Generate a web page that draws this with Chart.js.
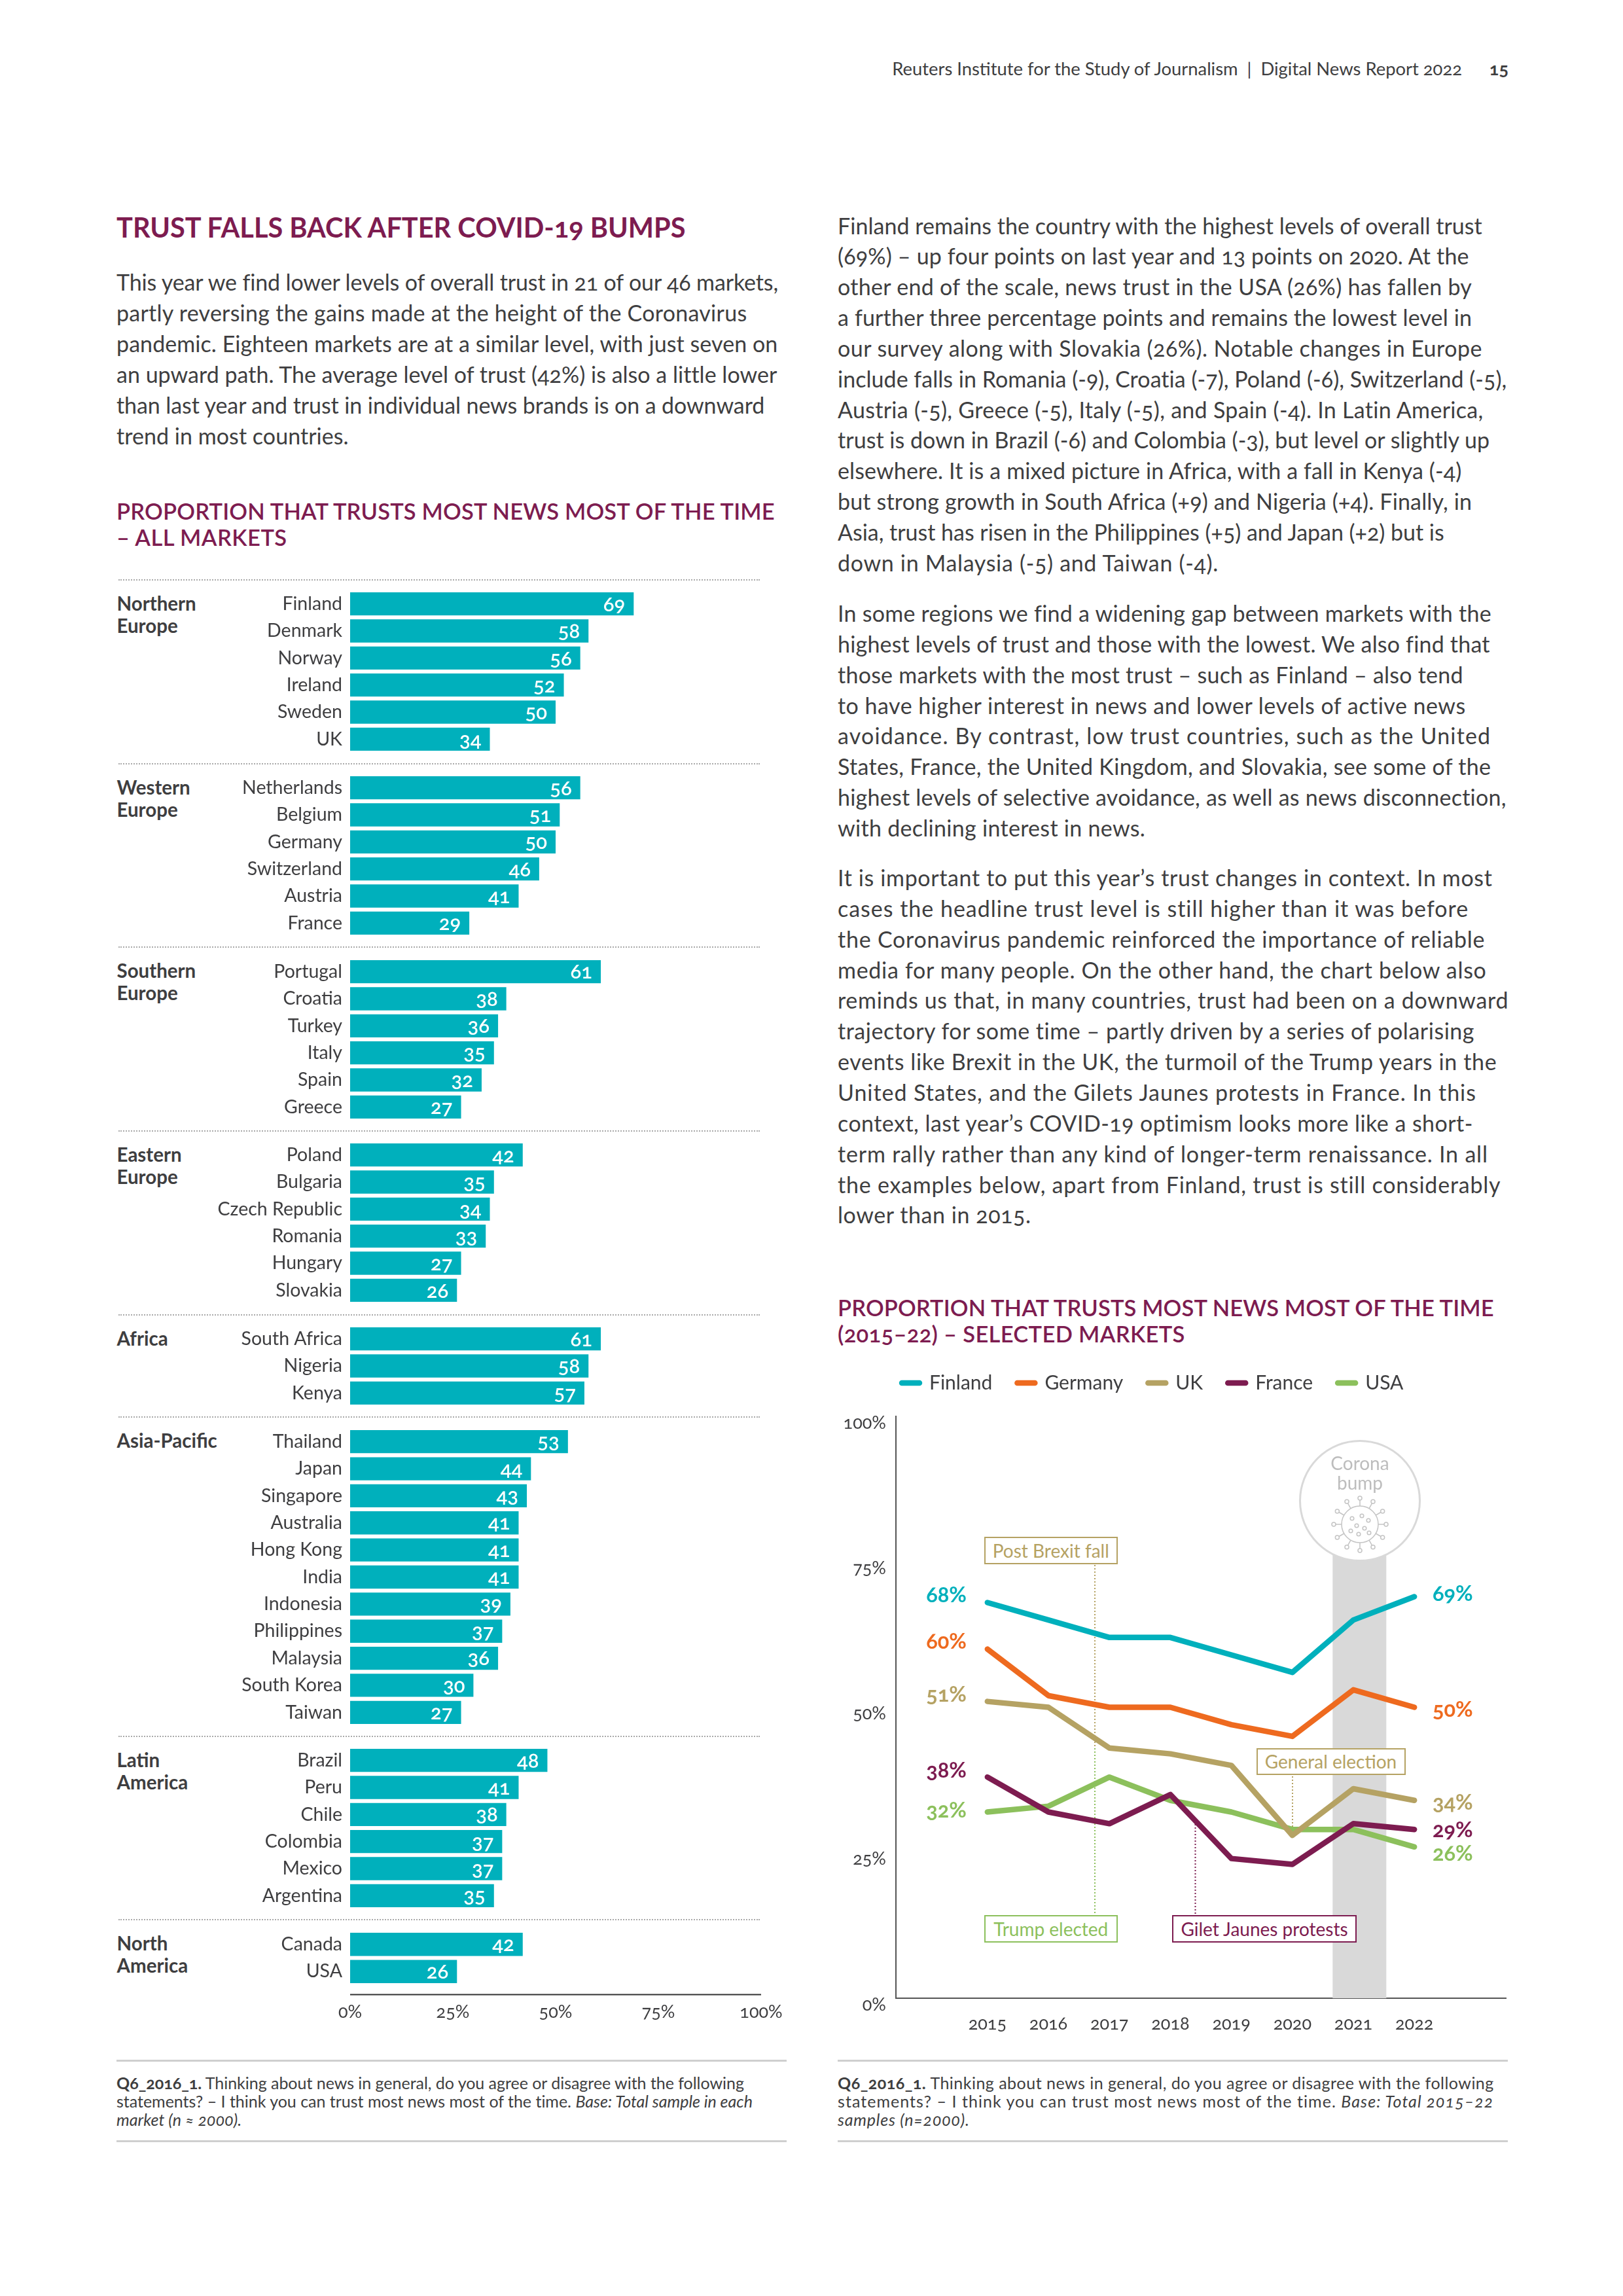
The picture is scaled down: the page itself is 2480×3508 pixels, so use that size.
<!DOCTYPE html>
<html><head><meta charset="utf-8">
<script src="https://cdn.jsdelivr.net/npm/chart.js@4"></script>
<style>
html,body{margin:0;padding:0;background:#fff}
#page{position:relative;width:2480px;height:3508px;overflow:hidden;font-family:Lato,sans-serif;color:#3e3e40;font-variant-numeric:oldstyle-nums}
.l{position:absolute;white-space:nowrap}
canvas{position:absolute}
.dot{position:absolute;border-top:2px dotted #a9a9a9;height:0}
.rule{position:absolute;border-top:3px solid #cfcfcf;height:0}
.box{position:absolute;box-sizing:border-box;border:2px solid;background:#fff;text-align:center;font-size:28px;white-space:nowrap}
</style></head>
<body><div id="page"></div>
<script>
const FONT='Lato, sans-serif', INK='#3e3e40', MAROON='#7d1c50', TEAL='#00b0bc';

// ---- left chart data
const groupNames=[['Northern','Europe'],['Western','Europe'],['Southern','Europe'],['Eastern','Europe'],['Africa'],['Asia-Pacific'],['Latin','America'],['North','America']];
const northernEurope=['Finland','Denmark','Norway','Ireland','Sweden','UK'];
const northernEuropeValues=[69,58,56,52,50,34];
const westernEurope=['Netherlands','Belgium','Germany','Switzerland','Austria','France'];
const westernEuropeValues=[56,51,50,46,41,29];
const southernEurope=['Portugal','Croatia','Turkey','Italy','Spain','Greece'];
const southernEuropeValues=[61,38,36,35,32,27];
const easternEurope=['Poland','Bulgaria','Czech Republic','Romania','Hungary','Slovakia'];
const easternEuropeValues=[42,35,34,33,27,26];
const africa=['South Africa','Nigeria','Kenya'];
const africaValues=[61,58,57];
const asiaPacific=['Thailand','Japan','Singapore','Australia','Hong Kong','India','Indonesia','Philippines','Malaysia','South Korea','Taiwan'];
const asiaPacificValues=[53,44,43,41,41,41,39,37,36,30,27];
const latinAmerica=['Brazil','Peru','Chile','Colombia','Mexico','Argentina'];
const latinAmericaValues=[48,41,38,37,37,35];
const northAmerica=['Canada','USA'];
const northAmericaValues=[42,26];
const groupCats=[northernEurope,westernEurope,southernEurope,easternEurope,africa,asiaPacific,latinAmerica,northAmerica];
const groupVals=[northernEuropeValues,westernEuropeValues,southernEuropeValues,easternEuropeValues,africaValues,asiaPacificValues,latinAmericaValues,northAmericaValues];

// ---- right chart data
const years=['2015','2016','2017','2018','2019','2020','2021','2022'];
const finland=[68,65,62,62,59,56,65,69];
const germany=[60,52,50,50,47,45,53,50];
const uk=[51,50,43,42,40,28,36,34];
const france=[38,32,30,35,24,23,30,29];
const usa=[32,33,38,34,32,29,29,26];
const seriesNames=['Finland','Germany','UK','France','USA'];
const seriesColors=[TEAL,'#ee6a1f','#b5a263',MAROON,'#8cc05c'];
const leftNudges=[-12,-12.7,-12,-11.4,-4];
const rightNudges=[-6,2.7,2.7,0,8.7];

// ---- text
const paraLeft=['This year we find lower levels of overall trust in 21 of our 46 markets,','partly reversing the gains made at the height of the Coronavirus','pandemic. Eighteen markets are at a similar level, with just seven on','an upward path. The average level of trust (42%) is also a little lower','than last year and trust in individual news brands is on a downward','trend in most countries.'];
const para1=['Finland remains the country with the highest levels of overall trust','(69%) – up four points on last year and 13 points on 2020. At the','other end of the scale, news trust in the USA (26%) has fallen by','a further three percentage points and remains the lowest level in','our survey along with Slovakia (26%). Notable changes in Europe','include falls in Romania (-9), Croatia (-7), Poland (-6), Switzerland (-5),','Austria (-5), Greece (-5), Italy (-5), and Spain (-4). In Latin America,','trust is down in Brazil (-6) and Colombia (-3), but level or slightly up','elsewhere. It is a mixed picture in Africa, with a fall in Kenya (-4)','but strong growth in South Africa (+9) and Nigeria (+4). Finally, in','Asia, trust has risen in the Philippines (+5) and Japan (+2) but is','down in Malaysia (-5) and Taiwan (-4).'];
const para2=['In some regions we find a widening gap between markets with the','highest levels of trust and those with the lowest. We also find that','those markets with the most trust – such as Finland – also tend','to have higher interest in news and lower levels of active news','avoidance. By contrast, low trust countries, such as the United','States, France, the United Kingdom, and Slovakia, see some of the','highest levels of selective avoidance, as well as news disconnection,','with declining interest in news.'];
const para3=["It is important to put this year’s trust changes in context. In most",'cases the headline trust level is still higher than it was before','the Coronavirus pandemic reinforced the importance of reliable','media for many people. On the other hand, the chart below also','reminds us that, in many countries, trust had been on a downward','trajectory for some time – partly driven by a series of polarising','events like Brexit in the UK, the turmoil of the Trump years in the','United States, and the Gilets Jaunes protests in France. In this',"context, last year’s COVID-19 optimism looks more like a short-",'term rally rather than any kind of longer-term renaissance. In all','the examples below, apart from Finland, trust is still considerably','lower than in 2015.'];
const noteLeft=['<b>Q6_2016_1.</b> Thinking about news in general, do you agree or disagree with the following','statements? – I think you can trust most news most of the time. <i>Base: Total sample in each</i>','<i>market (n ≈ 2000).</i>'];
const noteRight=['<b>Q6_2016_1.</b> Thinking about news in general, do you agree or disagree with the following','statements? – I think you can trust most news most of the time. <i>Base: Total 2015–22</i>','<i>samples (n=2000).</i>'];
// right-hand ends of the text lines, on the 2480/1108 reading scale
const P=2.238;
const paraLeftEnds=[531,510,531,530,522,238];
const para1Ends=[1012,1003,1005,1005,1012,1029,1013,1017,998,1005,986,832];
const para2Ends=[1018,1017,999,1001,1018,1018,1029,782];
const para3Ends=[1019,1003,1014,1015,1030,1007,1022,1008,1006,1016,1025,704];
const noteLeftEnds=[508,514,165];
const noteRightEnds=[1020,1020,662];

const page=document.getElementById('page');
function line(x,cy,html,css,right){
  const d=document.createElement('div');d.className='l';d.innerHTML=html;
  d.style.cssText=(right?'right:'+(2480-x)+'px;':'left:'+x+'px;')+'top:'+(cy-30)+'px;height:60px;line-height:60px;'+css;
  page.appendChild(d);return d;
}
function fit(d,x,end){
  const w=d.getBoundingClientRect().width,n=d.textContent.length;
  d.style.letterSpacing=((end*P-x-w)/n)+'px';
}
function lines(x,cy,pitch,arr,css,ends){arr.forEach((t,i)=>{const d=line(x,cy+i*pitch,t,css);if(ends)fit(d,x,ends[i]);});}
const BODY='font-size:34px;';
const HEAD='font-size:34.5px;font-weight:600;color:'+MAROON+';';
line(2234,105,'Reuters Institute for the Study of Journalism &nbsp;|&nbsp; Digital News Report 2022','font-size:27.4px;',true);
line(2305,105,'15','font-size:27px;font-weight:700;',true);
lines(178,346.5,0,['TRUST FALLS BACK AFTER COVID-19 BUMPS'],'font-size:41.5px;font-weight:700;color:'+MAROON+';',[468]);
lines(178,431,46.9,paraLeft,BODY,paraLeftEnds);
lines(178,781,40,['PROPORTION THAT TRUSTS MOST NEWS MOST OF THE TIME','– ALL MARKETS'],HEAD,[529,196]);
lines(1280,344.5,46.85,para1,BODY,para1Ends);
lines(1280,937,46.85,para2,BODY,para2Ends);
lines(1280,1341,46.85,para3,BODY,para3Ends);
lines(1280,1998,39.5,['PROPORTION THAT TRUSTS MOST NEWS MOST OF THE TIME','(2015–22) – SELECTED MARKETS'],HEAD,[1020,809]);

// footnotes
[[178,1202,noteLeft,noteLeftEnds],[1280,2304,noteRight,noteRightEnds]].forEach(([x,xe,t,e])=>{
  [3147,3270].forEach(y=>{const r=document.createElement('div');r.className='rule';r.style.cssText=`left:${x}px;width:${xe-x}px;top:${y}px`;page.appendChild(r);});
  lines(x,3181.5,28.3,t,'font-size:25px;',e);
});

Chart.defaults.animation=false;
Chart.defaults.font.family=FONT;
Chart.defaults.color=INK;

// ---- left chart: one Chart per region, same scale
const axisBelow={id:'axisBelow',afterDraw(c,a,o){
  if(!o.y)return;const {ctx}=c,x=c.scales.x;ctx.save();ctx.strokeStyle='#333';ctx.lineWidth=2;
  ctx.beginPath();ctx.moveTo(x.left,o.y);ctx.lineTo(x.right,o.y);ctx.stroke();ctx.restore();
}};
const noPad=s=>{s.paddingTop=0;s.paddingBottom=0;s.paddingLeft=0;s.paddingRight=0;};
const PITCH=41.33,GAP=74,X0=535,X100=1163,CL=200,CR=1205;
let cy=923;
groupCats.forEach((cats,g)=>{
  const last=g===groupCats.length-1, plotH=cats.length*PITCH, extra=last?70:0;
  const dot=document.createElement('div');dot.className='dot';dot.style.cssText=`left:181px;width:980px;top:${cy-38}px`;page.appendChild(dot);
  groupNames[g].forEach((t,i)=>line(178.5,cy-1+i*34,t,'font-size:29.5px;font-weight:700;'));
  const cv=document.createElement('canvas');cv.width=CR-CL;cv.height=Math.round(plotH+extra);
  const top=cy-PITCH/2;cv.style.left=CL+'px';cv.style.top=top+'px';page.appendChild(cv);
  const ch=new Chart(cv,{type:'bar',
    data:{labels:cats,datasets:[{data:groupVals[g],backgroundColor:TEAL,barPercentage:.854,categoryPercentage:1}]},
    options:{indexAxis:'y',responsive:false,devicePixelRatio:1,
      layout:{padding:{left:0,right:CR-X100,top:0,bottom:0}},
      plugins:{legend:{display:false},tooltip:{enabled:false},axisBelow:{y:last?(3047-top):0}},
      scales:{
        x:{min:0,max:100,display:last,grid:{display:false,drawTicks:false},border:{display:false},
           ticks:{stepSize:25,padding:25,color:INK,font:{size:27},maxRotation:0,callback:v=>v+'%'},
           afterFit:s=>{s.height=extra;noPad(s)}},
        y:{grid:{display:false,drawTicks:false},border:{display:false},
           ticks:{autoSkip:false,padding:12,color:INK,font:{size:28.5}},
           afterFit:s=>{s.width=X0-CL;noPad(s)}}
      }},
    plugins:[axisBelow]});
  // value labels sit on the bar elements the chart laid out
  ch.getDatasetMeta(0).data.forEach((b,i)=>{
    line(CL+b.x-13,top+b.y-1,String(groupVals[g][i]),'font-size:31px;font-weight:600;color:#fff;',true);
  });
  cy+=plotH-PITCH+GAP;
});

// ---- right chart
const pad=a=>[null,...a,null];
const bandRange=[6.66,7.54], bandTop=85;
const PLOT_TOP=2164,PLOT_BOTTOM=3053,RC_L=1270,RC_T=2020,RC_R=2340,RC_B=3130,LEG_PAD=38,LEG_CY=2116;
const leaders=[
 {x:1673,y1:2391,y2:2671,c:'#b5a263'},
 {x:1673,y1:2671,y2:2927,c:'#8cc05c'},
 {x:1826.5,y1:2787,y2:2927,c:MAROON},
 {x:1975,y1:2714,y2:2803,c:'#b5a263'}];
const backdrop={id:'backdrop',beforeDatasetsDraw(c){
  const {ctx}=c,x=c.scales.x,y=c.scales.y;ctx.save();
  ctx.fillStyle='#d9d9d9';
  const a=x.getPixelForValue(bandRange[0]),b=x.getPixelForValue(bandRange[1]);
  ctx.fillRect(a,y.getPixelForValue(bandTop),b-a,y.getPixelForValue(0)-y.getPixelForValue(bandTop));
  ctx.lineWidth=2;ctx.setLineDash([2,3]);
  leaders.forEach(l=>{ctx.strokeStyle=l.c;ctx.beginPath();ctx.moveTo(l.x-RC_L,l.y1-RC_T);ctx.lineTo(l.x-RC_L,l.y2-RC_T);ctx.stroke();});
  ctx.restore();
}};
const legendShift={id:'legendShift',afterLayout(c){
  const L=c.legend,h=L.height;L.left=70;L.right=L.left+L.width;L.top=LEG_CY-RC_T-LEG_PAD-18;L.bottom=L.top+h;
}};
const rv=document.createElement('canvas');rv.width=RC_R-RC_L;rv.height=RC_B-RC_T;rv.style.left=RC_L+'px';rv.style.top=RC_T+'px';page.appendChild(rv);
const seriesData=[finland,germany,uk,france,usa];
const lineChart=new Chart(rv,{type:'line',
  data:{labels:['',...years,''],datasets:seriesNames.map((n,i)=>({label:n,data:pad(seriesData[i]),borderColor:seriesColors[i],backgroundColor:seriesColors[i],borderWidth:8.5,pointRadius:0,borderCapStyle:'round',borderJoinStyle:'round',tension:0,spanGaps:false}))},
  options:{responsive:false,devicePixelRatio:1,
    layout:{padding:{left:0,right:RC_R-2301,top:0,bottom:0}},
    plugins:{tooltip:{enabled:false},
      legend:{display:true,position:'top',align:'start',labels:{usePointStyle:true,pointStyle:'line',pointStyleWidth:27,padding:LEG_PAD,color:INK,font:{size:30},
        generateLabels:c=>c.data.datasets.map((d,i)=>({text:d.label,strokeStyle:d.borderColor,fillStyle:d.borderColor,lineWidth:8.5,lineCap:'round',pointStyle:'line',rotation:0,hidden:false,datasetIndex:i,fontColor:INK}))}}},
    scales:{
      x:{offset:true,grid:{display:false,drawTicks:false},border:{display:true,color:'#555',width:2},
         ticks:{autoSkip:false,maxRotation:0,padding:23,color:INK,font:{size:27}},afterFit:s=>{s.height=RC_B-PLOT_BOTTOM;noPad(s)}},
      y:{min:0,max:100,grid:{display:false,drawTicks:false},border:{display:true,color:'#555',width:2},
         ticks:{stepSize:25,padding:15,labelOffset:10,color:INK,font:{size:27},callback:v=>v+'%'},afterFit:s=>{s.width=1369-RC_L;noPad(s)}}
    }},
  plugins:[backdrop,legendShift]});
lineChart.options.layout.padding.top+=PLOT_TOP-(lineChart.chartArea.top+RC_T);
lineChart.update('none');

// end labels positioned from the chart's own scales
const ys=lineChart.scales.y;
seriesData.forEach((s,i)=>{
  const c='font-size:32.5px;font-weight:700;color:'+seriesColors[i]+';';
  line(1477,RC_T+ys.getPixelForValue(s[0])+leftNudges[i],s[0]+'%',c,true);
  line(2189,RC_T+ys.getPixelForValue(s[7])+rightNudges[i],s[7]+'%',c);
});

// annotation boxes
function box(x1,y1,x2,y2,t,c){const d=document.createElement('div');d.className='box';d.textContent=t;
  d.style.cssText=`left:${x1}px;top:${y1}px;width:${x2-x1}px;height:${y2-y1}px;line-height:${y2-y1-4}px;border-color:${c};color:${c}`;page.appendChild(d);}
box(1503.5,2348,1708,2390,'Post Brexit fall','#b5a263');
box(1503.5,2926,1708,2968,'Trump elected','#8cc05c');
box(1791,2926,2073,2968,'Gilet Jaunes protests',MAROON);
box(1919.5,2671,2147.5,2712,'General election','#b5a263');

// corona bump badge
const circ=document.createElement('div');
circ.style.cssText='position:absolute;left:1985px;top:2200px;width:186px;height:186px;box-sizing:border-box;border:3px solid #d9d9d9;border-radius:50%;background:#fff';
page.appendChild(circ);
lines(2001,2235,29.5,['Corona','bump'],'width:154px;text-align:center;font-size:28px;color:#bdbdbd;');
let svg='<svg xmlns="http://www.w3.org/2000/svg" width="90" height="90" viewBox="-45 -45 90 90" style="position:absolute;left:2033px;top:2283.5px" fill="none" stroke="#c4c4c4" stroke-width="1.5">';
svg+='<circle r="28"/>';
for(let k=0;k<12;k++){const a=k*Math.PI/6,ca=Math.cos(a),sa=Math.sin(a);
  svg+=`<line x1="${28*ca}" y1="${28*sa}" x2="${37*ca}" y2="${37*sa}"/><circle cx="${40*ca}" cy="${40*sa}" r="3"/>`;}
[[-12,-9],[3,-13],[13,-6],[-5,2],[7,6],[-14,10],[-2,15],[14,13]].forEach(p=>svg+=`<circle cx="${p[0]}" cy="${p[1]}" r="2.8"/>`);
svg+='</svg>';
page.insertAdjacentHTML('beforeend',svg);
</script>
</body></html>
